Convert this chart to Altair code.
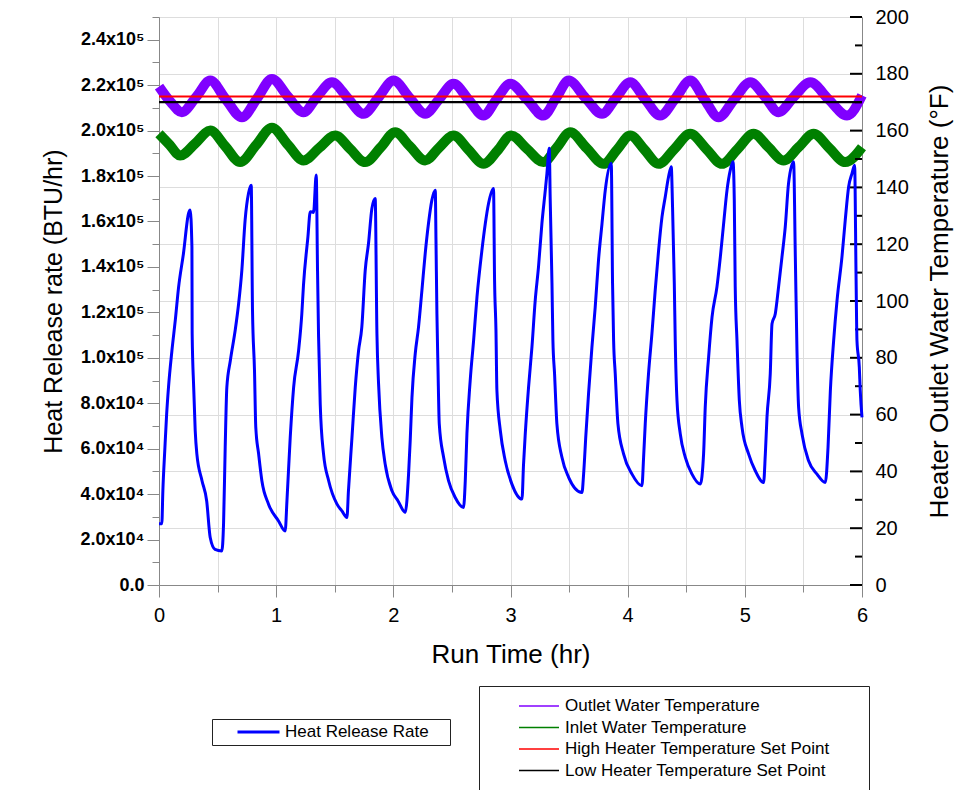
import altair as alt
import pandas as pd

# ---------------- data ----------------
# Heat release rate (BTU/hr) against run time (hr)
hrr_time = [
    0.000, 0.024, 0.033, 0.050, 0.065, 0.081, 0.110, 0.140, 0.167, 0.209, 0.252, 0.266,
    0.281, 0.283, 0.296, 0.309, 0.323, 0.367, 0.407, 0.437, 0.478, 0.536,
    0.551, 0.565, 0.579, 0.609, 0.650, 0.680, 0.707, 0.735, 0.764, 0.787,
    0.798, 0.815, 0.826, 0.850, 0.878, 0.934, 1.020, 1.077,
    1.092, 1.120, 1.149, 1.191, 1.219, 1.233, 1.271, 1.291, 1.319, 1.342,
    1.353, 1.362, 1.376, 1.404, 1.448, 1.518, 1.561, 1.604,
    1.617, 1.647, 1.675, 1.703, 1.731, 1.760, 1.788, 1.817, 1.845,
    1.860, 1.874, 1.902, 1.930, 1.988, 2.040, 2.102,
    2.130, 2.144, 2.159, 2.187, 2.215, 2.244, 2.272, 2.300, 2.329, 2.358,
    2.364, 2.372, 2.381, 2.392, 2.429, 2.471, 2.528, 2.599,
    2.614, 2.628, 2.656, 2.685, 2.714, 2.756, 2.785, 2.813, 2.855,
    2.864, 2.876, 2.884, 2.913, 2.955, 3.012, 3.098,
    3.111, 3.126, 3.154, 3.183, 3.211, 3.239, 3.268, 3.297, 3.311, 3.331,
    3.339, 3.354, 3.362, 3.376, 3.396, 3.439, 3.496, 3.610,
    3.624, 3.644, 3.666, 3.695, 3.723, 3.751, 3.781, 3.809, 3.860,
    3.871, 3.880, 3.894, 3.917, 3.965, 4.037, 4.122,
    4.136, 4.150, 4.178, 4.207, 4.235, 4.264, 4.293, 4.321, 4.349, 4.372,
    4.383, 4.398, 4.406, 4.421, 4.449, 4.492, 4.549, 4.620,
    4.648, 4.662, 4.691, 4.720, 4.762, 4.791, 4.819, 4.848, 4.876, 4.899,
    4.910, 4.918, 4.933, 4.953, 4.976, 5.032, 5.089, 5.160,
    5.175, 5.189, 5.217, 5.232, 5.260, 5.288, 5.317, 5.345, 5.373, 5.416,
    5.431, 5.445, 5.459, 5.488, 5.544, 5.616, 5.687,
    5.710, 5.730, 5.758, 5.787, 5.829, 5.857, 5.886, 5.915, 5.937,
    5.949, 5.957, 5.977, 5.985, 6.000,
]
hrr_value = [
    27000, 27000, 41500, 60000, 75000, 87000, 103000, 117000, 131000, 146000, 163500, 165000,
    148800, 110700, 87000, 68000, 57700, 45900, 37000, 20900, 15700, 15000,
    27000, 60600, 87000, 98800, 112000, 124000, 138500, 160600, 172400, 176000,
    120900, 94400, 69400, 57800, 45900, 35700, 28200, 23800,
    37000, 65000, 87000, 103000, 119400, 131900, 153200, 164300, 164000, 180500,
    138500, 109100, 79700, 57800, 45900, 35700, 32600, 29700,
    41500, 65000, 87000, 103000, 113500, 138500, 150300, 165700, 170100,
    110600, 88500, 65000, 53300, 41500, 37000, 32000,
    48800, 63500, 82600, 101800, 113500, 129700, 145900, 159100, 169400, 173800,
    151800, 119400, 95900, 70900, 56200, 45900, 38500, 34100,
    45900, 66500, 90000, 107600, 126800, 147300, 159100, 168000, 174500,
    134100, 112000, 85600, 68000, 54700, 44400, 37800,
    52900, 66500, 87000, 104700, 125300, 140000, 159100, 173800, 181200, 192200,
    169400, 132700, 107600, 93000, 70900, 56200, 47400, 40700,
    48800, 66500, 84100, 104700, 122300, 142900, 159100, 173800, 185600,
    132700, 107600, 93000, 70900, 57700, 48800, 43700,
    56200, 70900, 93000, 110600, 129700, 147300, 162000, 170900, 179700, 184100,
    166500, 132700, 107600, 81200, 66500, 56200, 48800, 44400,
    57700, 78200, 100300, 117900, 131200, 144400, 159100, 173800, 182600, 186300,
    169400, 131200, 107600, 81200, 69400, 57700, 50300, 45100,
    57700, 73800, 93000, 115000, 119400, 131200, 144400, 157600, 176800, 186300,
    144400, 103200, 78200, 66500, 54700, 48800, 45100,
    60600, 85600, 107600, 125300, 144400, 160600, 175300, 181200, 184800,
    137000, 107600, 95900, 85600, 73800,
]

# Outlet water temperature (F)
outlet_time = [
    0.000, 0.100, 0.195, 0.320, 0.437, 0.570, 0.708, 0.840, 0.964, 1.100, 1.233, 1.350,
    1.476, 1.610, 1.746, 1.870, 2.002, 2.140, 2.272, 2.390, 2.514, 2.640, 2.770, 2.880,
    2.998, 3.140, 3.280, 3.390, 3.496, 3.640, 3.781, 3.900, 4.022, 4.150, 4.278, 4.410,
    4.534, 4.655, 4.776, 4.910, 5.047, 5.170, 5.288, 5.420, 5.559, 5.715, 5.872, 6.000,
]
outlet_temp = [
    175.5, 170.0, 166.5, 172.0, 177.6, 171.0, 164.7, 171.5, 178.2, 172.0, 166.5, 172.0,
    177.0, 171.5, 165.9, 171.5, 177.6, 171.5, 165.9, 171.0, 176.5, 171.0, 165.3, 171.0,
    176.5, 171.0, 165.3, 171.5, 177.6, 171.5, 165.9, 171.5, 177.0, 171.0, 165.3, 171.5,
    177.6, 171.0, 164.7, 171.0, 177.0, 172.0, 166.5, 172.0, 177.0, 171.0, 165.3, 172.4,
]

# Inlet water temperature (F)
inlet_time = [
    0.000, 0.090, 0.180, 0.310, 0.437, 0.565, 0.693, 0.830, 0.964, 1.100, 1.233, 1.370,
    1.504, 1.630, 1.760, 1.890, 2.016, 2.140, 2.272, 2.390, 2.514, 2.640, 2.770, 2.890,
    3.006, 3.140, 3.280, 3.395, 3.510, 3.650, 3.794, 3.910, 4.022, 4.143, 4.264, 4.400,
    4.534, 4.670, 4.805, 4.940, 5.075, 5.200, 5.331, 5.460, 5.587, 5.720, 5.857, 6.000,
]
inlet_temp = [
    158.9, 155.0, 151.2, 155.5, 160.0, 154.5, 148.9, 155.0, 161.0, 155.0, 149.5, 154.0,
    158.3, 153.6, 148.9, 154.0, 159.4, 154.5, 149.5, 154.0, 158.3, 153.3, 148.3, 153.0,
    158.3, 153.6, 148.9, 154.0, 159.4, 153.8, 148.3, 153.3, 158.3, 153.3, 148.3, 153.6,
    158.9, 153.6, 148.3, 153.6, 158.9, 154.2, 149.5, 154.2, 158.9, 153.9, 148.9, 154.1,
]

# Heater set points (F), drawn across the whole run
setpoint_high = 172
setpoint_low = 170
run_span = [0, 6]

series_names = [
    "Outlet Water Temperature",
    "Inlet Water Temperature",
    "High Heater Temperature Set Point",
    "Low Heater Temperature Set Point",
]
series_colors = ["#8000ff", "#008000", "#ff0000", "#000000"]
hrr_name = "Heat Release Rate"

# tick values
x_ticks = [0, 0.5, 1, 1.5, 2, 2.5, 3, 3.5, 4, 4.5, 5, 5.5, 6]
left_ticks = [0, 10000, 20000, 30000, 40000, 50000, 60000, 70000, 80000, 90000, 100000,
              110000, 120000, 130000, 140000, 150000, 160000, 170000, 180000, 190000,
              200000, 210000, 220000, 230000, 240000, 250000]
right_major = [0, 20, 40, 60, 80, 100, 120, 140, 160, 180, 200]
right_minor = [10, 30, 50, 70, 90, 110, 130, 150, 170, 190]

# ---------------- tables ----------------
hrr_df = pd.DataFrame({"t": hrr_time, "hrr": hrr_value, "series": hrr_name})
band_df = pd.concat([
    pd.DataFrame({"t": outlet_time, "temp": outlet_temp, "series": series_names[0]}),
    pd.DataFrame({"t": inlet_time, "temp": inlet_temp, "series": series_names[1]}),
])
sp_df = pd.concat([
    pd.DataFrame({"t": run_span, "temp": [setpoint_high] * 2, "series": series_names[2]}),
    pd.DataFrame({"t": run_span, "temp": [setpoint_low] * 2, "series": series_names[3]}),
])
major_df = pd.DataFrame({"temp": right_major})
minor_df = pd.DataFrame({"temp": right_minor})

FONT = "Liberation Sans"
W, H = 703, 568

x_enc = alt.X(
    "t:Q",
    scale=alt.Scale(domain=[0, 6], nice=False, zero=False),
    axis=alt.Axis(
        title="Run Time (hr)", values=x_ticks,
        labelExpr="datum.value % 1 === 0 ? format(datum.value, 'd') : ''",
        tickSize={"condition": {"test": "datum.value % 1 === 0", "value": 12}, "value": 7},
        labelFontSize=20, labelPadding=8, labelFlush=False, labelOverlap=False,
        titleFontSize=26, titleFontWeight="normal", titlePadding=16,
    ),
)

temp_y = alt.Y(
    "temp:Q",
    scale=alt.Scale(domain=[0, 200], nice=False),
    axis=alt.Axis(
        orient="right", title="Heater Outlet Water Temperature (°F)",
        values=right_major, ticks=False, labelPadding=13, labelFontSize=20,
        labelFlush=False, labelOverlap=False,
        titleFontSize=26, titleFontWeight="normal", titleAngle=270,
        titleBaseline="top", titlePadding=18,
    ),
)

temp_legend = alt.Legend(
    title=".", titleOrient="right", titleOpacity=0, titleFontSize=2, titlePadding=28,
    orient="none", legendX=320, legendY=669, padding=10,
    strokeColor="#222222", fillColor="white", symbolType="stroke",
    symbolSize=1600, symbolStrokeWidth=1.5, symbolOffset=29, labelOffset=5,
    clipHeight=20, rowPadding=1.5, labelFontSize=17, labelLimit=0,
)
temp_color = alt.Color(
    "series:N",
    scale=alt.Scale(domain=series_names, range=series_colors),
    legend=temp_legend,
)

bands = alt.Chart(band_df).mark_line(strokeWidth=10, interpolate="monotone").encode(
    x=x_enc, y=temp_y, color=temp_color, detail="series:N"
)
setpoints = alt.Chart(sp_df).mark_line(strokeWidth=2.2).encode(
    x=x_enc, y=temp_y, color=temp_color
)
ticks_major = alt.Chart(major_df).mark_rule(color="black", strokeWidth=2).encode(
    y=temp_y, x=alt.value(W - 12), x2=alt.value(W)
)
ticks_minor = alt.Chart(minor_df).mark_rule(color="black", strokeWidth=2).encode(
    y=temp_y, x=alt.value(W - 7), x2=alt.value(W)
)
temp_layer = alt.layer(bands, setpoints, ticks_major, ticks_minor)

left_label = (
    "datum.value % 20000 !== 0 ? '' : (datum.value === 0 ? '0.0' : "
    "(datum.value >= 100000 ? format(datum.value / 100000, '.1f') + 'x10\u2075' : "
    "format(datum.value / 10000, '.1f') + 'x10\u2074'))"
)
hrr_layer = alt.Chart(hrr_df).mark_line(strokeWidth=3, interpolate="monotone").encode(
    x=x_enc,
    y=alt.Y(
        "hrr:Q",
        scale=alt.Scale(domain=[0, 250000], nice=False),
        axis=alt.Axis(
            orient="left", title="Heat Release rate (BTU/hr)", values=left_ticks,
            labelExpr=left_label,
            tickSize={"condition": {"test": "datum.value % 20000 === 0", "value": 12}, "value": 7},
            labelFontSize=18, labelFontWeight="bold", labelPadding=3,
            labelFlush=False, labelOverlap=False,
            titleFontSize=25, titleFontWeight="normal", titlePadding=14,
        ),
    ),
    color=alt.Color(
        "series:N",
        scale=alt.Scale(domain=[hrr_name], range=["#0000ff"]),
        legend=alt.Legend(
            title=".", titleOrient="right", titleOpacity=0, titleFontSize=2, titlePadding=16,
            orient="none", legendX=53, legendY=702, padding=4,
            strokeColor="#222222", fillColor="white", symbolType="stroke",
            symbolSize=1764, symbolStrokeWidth=3, symbolOffset=20, labelOffset=4,
            clipHeight=18, labelFontSize=17, labelLimit=0,
        ),
    ),
)

chart = (
    alt.layer(temp_layer, hrr_layer)
    .resolve_scale(y="independent", color="independent")
    .properties(
        width=W, height=H,
        autosize=alt.AutoSizeParams(type="none"),
        padding={"left": 159, "top": 17, "right": 95, "bottom": 205},
    )
    .configure_axis(
        grid=False, domainColor="black", domainWidth=2, tickColor="black", tickWidth=2,
        labelColor="black", titleColor="black", labelFont=FONT, titleFont=FONT,
    )
    .configure_legend(labelFont=FONT, labelColor="black", titleFont=FONT)
    .configure_view(stroke=None)
    .configure(font=FONT, background="white")
)

chart.save("out.html", embed_options={"renderer": "svg", "actions": False})
